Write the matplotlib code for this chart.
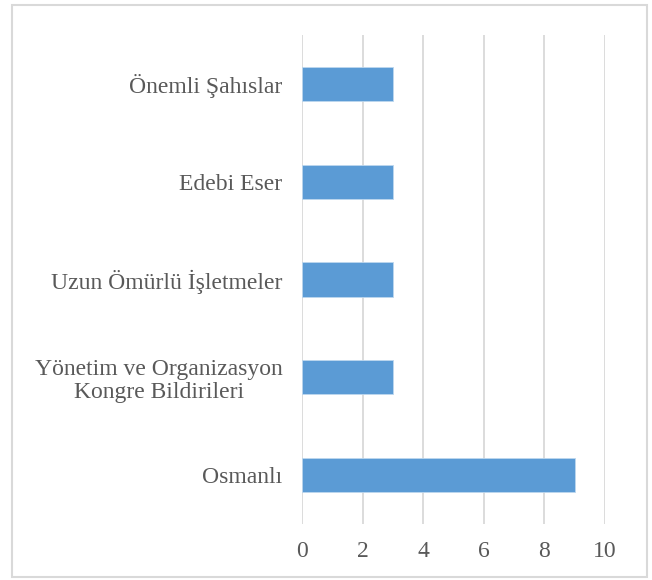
import matplotlib.pyplot as plt
from matplotlib.patches import Rectangle

# Data (bottom to top)
categories = ["Osmanlı", "Yönetim ve Organizasyon\nKongre Bildirileri",
              "Uzun Ömürlü İşletmeler", "Edebi Eser", "Önemli Şahıslar"]
values = [9, 3, 3, 3, 3]
xticks = [0, 2, 4, 6, 8, 10]

BAR_COLOR = "#5B9BD5"
GRID_COLOR = "#D9D9D9"
TEXT_COLOR = "#595959"

plt.rcParams["font.family"] = ["Liberation Serif", "DejaVu Serif"]

W, H = 652, 580
fig = plt.figure(figsize=(W / 100, H / 100), dpi=100)
ax = fig.add_axes([302 / W, 1 - 524 / H, (605 - 302) / W, (524 - 35) / H])

ax.barh(range(len(categories)), values, height=0.35, color=BAR_COLOR,
        edgecolor="#BDD7EE", linewidth=0.6, zorder=3)

ax.set_xlim(0, 10)
ax.set_ylim(-0.5, len(categories) - 0.5)
ax.set_xticks(xticks)
ax.set_yticks(range(len(categories)))
ax.set_yticklabels(categories, fontsize=17, color=TEXT_COLOR,
                   linespacing=1.15, multialignment="center")
ax.tick_params(axis="x", labelsize=17, colors=TEXT_COLOR, length=0, pad=12)
ax.tick_params(axis="y", length=0, pad=14)
ax.grid(axis="x", color=GRID_COLOR, linewidth=1.3, zorder=0)
for s in ax.spines.values():
    s.set_visible(False)

# outer chart border
fig.patches.append(Rectangle((12 / W, 1 - 577 / H), (647 - 12) / W, (577 - 5) / H,
                             transform=fig.transFigure, fill=False,
                             edgecolor=GRID_COLOR, linewidth=1.5))

fig.savefig("out.png", dpi=100)
